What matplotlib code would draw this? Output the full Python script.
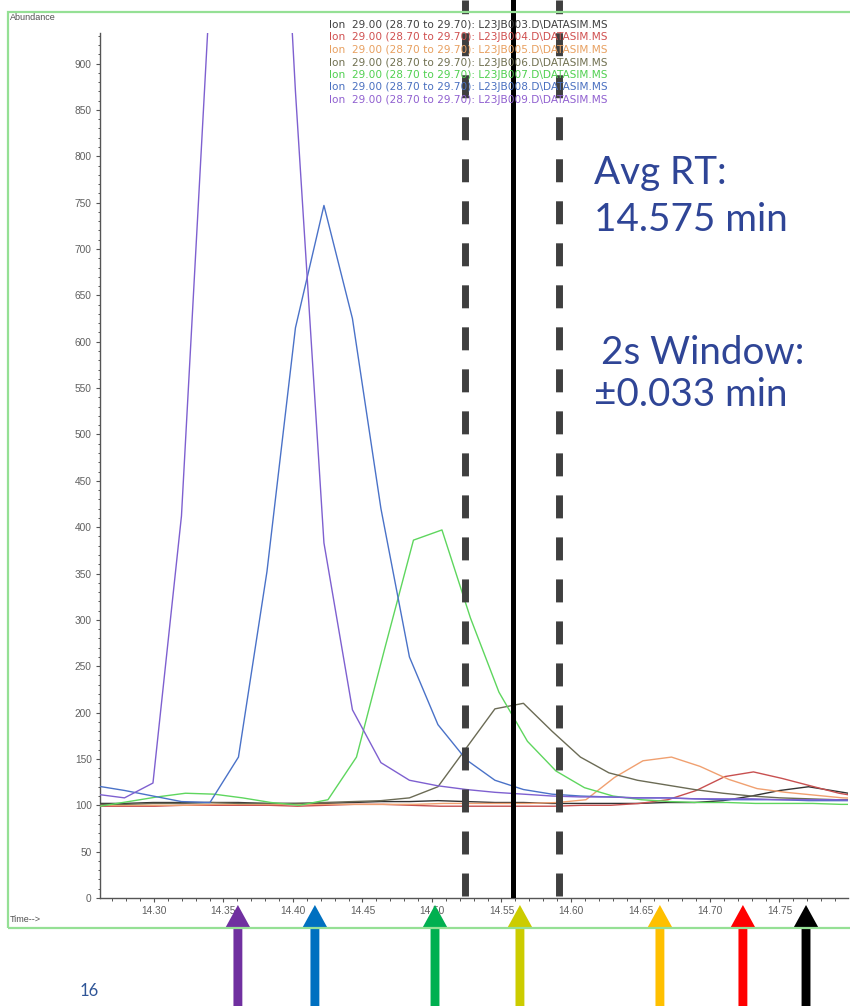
import matplotlib.pyplot as plt
from matplotlib.patches import Rectangle, ArrowStyle
from matplotlib.ticker import MultipleLocator

# scan times (min) and abundances for ion 29.00, one run per data file
files = ["L23JB003", "L23JB004", "L23JB005", "L23JB006",
         "L23JB007", "L23JB008", "L23JB009"]

trace_colors = ["#333333", "#c85050", "#f0a070", "#6b6b55",
                "#5ed65e", "#4a72c8", "#7e60d0"]
legend_colors = ["#404040", "#d05050", "#e8a060", "#707050",
                 "#50d050", "#4a70c0", "#9060d0"]

times_base = [14.2583, 14.2788, 14.2993, 14.3198, 14.3403, 14.3608, 14.3813,
              14.4018, 14.4223, 14.4428, 14.4633, 14.4838, 14.5043, 14.5248,
              14.5453, 14.5658, 14.5863, 14.6068, 14.6273, 14.6478, 14.6683,
              14.6888, 14.7094, 14.7299, 14.7504, 14.7709, 14.7914, 14.8119]

times_004 = [14.2597, 14.2802, 14.3007, 14.3212, 14.3417, 14.3622, 14.3827,
             14.4032, 14.4237, 14.4442, 14.4647, 14.4852, 14.5057, 14.5262,
             14.5467, 14.5672, 14.5877, 14.6082, 14.6287, 14.6492, 14.6697,
             14.6902, 14.7108, 14.7313, 14.7518, 14.7723, 14.7928, 14.8133]

times_005 = [14.2623, 14.2828, 14.3033, 14.3238, 14.3443, 14.3648, 14.3853,
             14.4058, 14.4263, 14.4468, 14.4673, 14.4878, 14.5083, 14.5288,
             14.5493, 14.5698, 14.5903, 14.6108, 14.6313, 14.6518, 14.6723,
             14.6928, 14.7134, 14.7339, 14.7544, 14.7749, 14.7954, 14.8159]

times_007 = [14.2612, 14.2817, 14.3022, 14.3227, 14.3432, 14.3637, 14.3842,
             14.4047, 14.4252, 14.4457, 14.4662, 14.4867, 14.5072, 14.5277,
             14.5482, 14.5687, 14.5892, 14.6097, 14.6302, 14.6507, 14.6712,
             14.6917, 14.7123, 14.7328, 14.7533, 14.7738, 14.7943, 14.8148]

abund_003 = [102, 102, 103, 103, 103, 103, 102, 102, 102, 103, 104, 104, 105,
             104, 103, 103, 102, 102, 102, 102, 103, 103, 105, 110, 116, 120,
             115, 110]
abund_004 = [99, 99, 99, 100, 100, 100, 100, 99, 100, 101, 101, 100, 99, 99,
             99, 99, 99, 100, 100, 102, 106, 116, 131, 136, 129, 121, 113, 108]
abund_005 = [100, 100, 100, 100, 101, 101, 101, 101, 101, 101, 101, 101, 102,
             102, 102, 102, 103, 106, 130, 148, 152, 142, 128, 118, 114, 111,
             108, 107]
abund_006 = [101, 101, 102, 102, 103, 102, 102, 102, 103, 104, 105, 108, 120,
             162, 204, 210, 180, 152, 135, 127, 122, 117, 113, 110, 108, 107,
             106, 106]
abund_007 = [99, 104, 109, 113, 112, 108, 103, 100, 106, 152, 270, 386, 397,
             302, 222, 169, 137, 119, 110, 106, 104, 103, 103, 102, 102, 102,
             101, 101]
abund_008 = [121, 116, 110, 104, 103, 152, 352, 615, 747, 625, 420, 260, 187,
             149, 127, 117, 112, 110, 109, 108, 108, 107, 106, 106, 106, 105,
             105, 105]
abund_009 = [112, 108, 124, 412, 980, 1650, 1440, 870, 383, 203, 146, 127, 121,
             117, 114, 112, 110, 109, 109, 108, 108, 107, 107, 107, 106, 106,
             106, 105]

trace_times = [times_base, times_004, times_005, times_base,
               times_007, times_base, times_base]
trace_abund = [abund_003, abund_004, abund_005, abund_006,
               abund_007, abund_008, abund_009]

# apex of each run, marked below the axis
apex_times = [14.3604, 14.4158, 14.5022, 14.5633, 14.6640, 14.7237, 14.7691]
apex_colors = ["#7030a0", "#0070c0", "#00b050", "#cccc00",
               "#ffc000", "#ff0000", "#000000"]

# retention window: lower edge, average, upper edge
window_lines = [14.5237, 14.5583, 14.5914]

W, H = 850, 1006


def fx(px):
    return px / W


def fy(py):
    return 1 - py / H


fig = plt.figure(figsize=(8.5, 10.06), dpi=100)
fig.patch.set_facecolor("white")

fig.add_artist(Rectangle((fx(8), fy(928)), fx(850), fy(12) - fy(928),
                         transform=fig.transFigure, fill=False,
                         edgecolor="#95e095", lw=1.6))

ax = fig.add_axes([fx(100), fy(898), fx(748), (898 - 33) / H])
ax.set_xlim(14.2612, 14.7993)
ax.set_ylim(0, 933)

for t, a, c in zip(trace_times, trace_abund, trace_colors):
    ax.plot(t, a, color=c, lw=1.0, zorder=3)

for s in ["top", "right"]:
    ax.spines[s].set_visible(False)
for s in ["left", "bottom"]:
    ax.spines[s].set_color("#555555")
    ax.spines[s].set_linewidth(1.0)

ax.xaxis.set_major_locator(MultipleLocator(0.05))
ax.xaxis.set_minor_locator(MultipleLocator(0.01))
ax.yaxis.set_major_locator(MultipleLocator(50))
ax.yaxis.set_minor_locator(MultipleLocator(10))
ax.xaxis.set_major_formatter(lambda v, p: f"{v:.2f}")
ax.tick_params(which="major", length=3, width=0.8, color="#555555",
               labelsize=7.3, labelcolor="#606060", pad=3)
ax.tick_params(which="minor", length=1.8, width=0.7, color="#555555")
for lab in ax.get_xticklabels() + ax.get_yticklabels():
    lab.set_family("Liberation Sans")

fig.text(fx(10), fy(18), "Abundance", fontsize=6.5, color="#505050",
         family="Liberation Sans", va="center")
fig.text(fx(10), fy(920), "Time-->", fontsize=6.5, color="#505050",
         family="Liberation Sans", va="center")

# run list in the top corner
for i, (f, c) in enumerate(zip(files, legend_colors)):
    fig.text(fx(329), fy(25 + 12.5 * i),
             f"Ion  29.00 (28.70 to 29.70): {f}.D\\DATASIM.MS",
             fontsize=7.6, color=c, family="DejaVu Sans", va="center",
             zorder=2)

# window edges (dashed) and average RT (solid)
xt = ax.get_xaxis_transform()
y_low, y_top = 2 / 865, 898 / 865
ax.plot([window_lines[0]] * 2, [y_low, y_top], transform=xt, clip_on=False,
        color="#3f3f3f", lw=5, ls=(0, (3.31, 2.74)), zorder=6)
ax.plot([window_lines[2]] * 2, [y_low, y_top], transform=xt, clip_on=False,
        color="#3f3f3f", lw=5, ls=(0, (3.31, 2.74)), zorder=6)
ax.plot([window_lines[1]] * 2, [3 / 865, y_top], transform=xt, clip_on=False,
        color="black", lw=3.6, zorder=6)

arrow = ArrowStyle("simple", head_length=0.8, head_width=0.88,
                   tail_width=0.32)
for t, c in zip(apex_times, apex_colors):
    ax.annotate("", xy=(t, fy(905)), xytext=(t, -0.01),
                xycoords=("data", "figure fraction"),
                textcoords=("data", "figure fraction"),
                annotation_clip=False,
                arrowprops=dict(arrowstyle=arrow, mutation_scale=20,
                                color=c, lw=0, shrinkA=0, shrinkB=0))

note = dict(fontsize=27.8, color="#2f4596", family="Lato", va="baseline")
fig.text(fx(594), fy(184), "Avg RT:", **note)
fig.text(fx(594), fy(231), "14.575 min", **note)
fig.text(fx(601), fy(364), "2s Window:", **note)
fig.text(fx(594), fy(406), "\u00b10.033 min", **note)

fig.text(fx(80), fy(996), "16", fontsize=12, color="#2f5597",
         family="Lato", va="baseline")

fig.savefig("out.png", dpi=100)
